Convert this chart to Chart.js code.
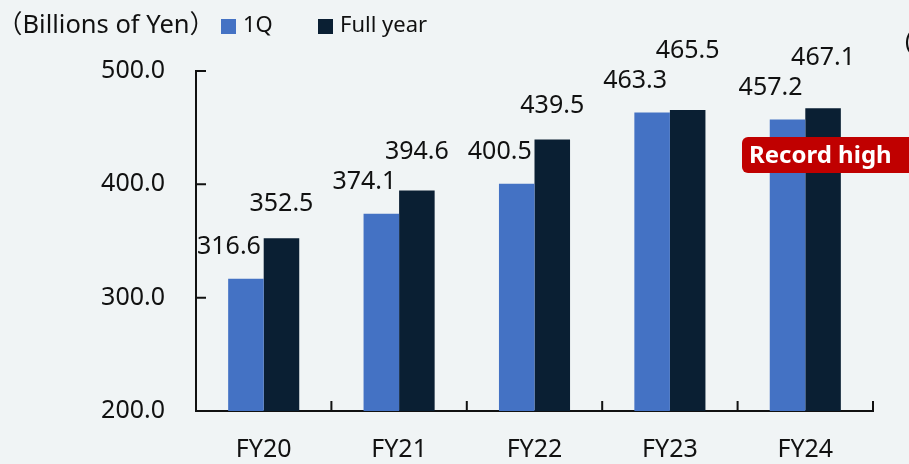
<!DOCTYPE html>
<html>
<head>
<meta charset="utf-8">
<script src="https://cdn.jsdelivr.net/npm/chart.js@4.4.1/dist/chart.umd.min.js"></script>
<style>
    body { margin: 0; background: #f0f4f5; }
    #wrap { width: 909px; height: 464px; }
</style>
</head>
<body>
<div id="wrap"><canvas id="grafico" width="909" height="464"></canvas></div>
<script>
const categories = ['FY20', 'FY21', 'FY22', 'FY23', 'FY24'];
const firstQuarter = [316.6, 374.1, 400.5, 463.3, 457.2];
const fullYear = [352.5, 394.6, 439.5, 465.5, 467.1];
const yTicks = [200, 300, 400, 500];

const FONT = "'Noto Sans', 'Noto Sans CJK JP', sans-serif";
const BG = '#f0f4f5';

// value labels, inward tick marks, unit label, legend and badge
const extras = {
    id: 'extras',
    beforeDraw(chart) {
        const ctx = chart.ctx;
        ctx.save();
        ctx.fillStyle = BG;
        ctx.fillRect(0, 0, chart.width, chart.height);
        ctx.restore();
    },
    afterDatasetsDraw(chart) {
        const ctx = chart.ctx;
        ctx.save();
        ctx.font = '25px ' + FONT;
        ctx.fillStyle = '#111111';
        ctx.textAlign = 'center';
        ctx.textBaseline = 'middle';
        const qBars = chart.getDatasetMeta(0).data;
        const fBars = chart.getDatasetMeta(1).data;
        qBars.forEach((bar, i) => {
            const qy = bar.y - 32;
            ctx.fillText(firstQuarter[i].toFixed(1), bar.x - 17, qy);
            // full year label sits above its bar, and above the 1Q label if they would touch
            const fBar = fBars[i];
            const fy = Math.min(fBar.y - 34, qy - 30);
            ctx.fillText(fullYear[i].toFixed(1), fBar.x, fy);
        });
        ctx.restore();
    },
    afterDraw(chart) {
        const ctx = chart.ctx;
        const area = chart.chartArea;
        const x = chart.scales.x;
        const y = chart.scales.y;
        ctx.save();

        // tick marks pointing into the plot
        ctx.strokeStyle = '#111111';
        ctx.lineWidth = 2;
        ctx.beginPath();
        yTicks.forEach((v) => {
            const py = y.getPixelForValue(v);
            ctx.moveTo(area.left, py);
            ctx.lineTo(area.left + 10, py);
        });
        for (let i = 1; i <= categories.length; i++) {
            const px = x.getPixelForValue(i - 0.5);
            ctx.moveTo(px, area.bottom);
            ctx.lineTo(px, area.bottom - 10);
        }
        ctx.stroke();

        // unit label
        ctx.fillStyle = '#111111';
        ctx.textBaseline = 'middle';
        ctx.textAlign = 'left';
        ctx.font = '25.5px ' + FONT;
        ctx.fillText('（Billions of Yen）', -3, 26);

        // legend
        ctx.font = '22px ' + FONT;
        const legendX = [221, 318];
        chart.data.datasets.forEach((dataset, d) => {
            ctx.fillStyle = dataset.backgroundColor;
            ctx.fillRect(legendX[d], 19, 15, 15);
            ctx.fillStyle = '#111111';
            ctx.fillText(dataset.label, legendX[d] + 22, 26);
        });

        // cut-off text at the right edge
        ctx.font = '24px ' + FONT;
        ctx.fillText('(', 905, 42);

        // badge
        ctx.fillStyle = '#c00000';
        ctx.beginPath();
        ctx.roundRect(742, 137, 172, 36, 6);
        ctx.fill();
        ctx.fillStyle = '#ffffff';
        ctx.font = 'bold 24px ' + FONT;
        ctx.fillText('Record high', 749, 156);

        ctx.restore();
    }
};

function createChart() {
    const ctx = document.getElementById('grafico');
    return new Chart(ctx, {
        type: 'bar',
        data: {
            labels: categories,
            datasets: [{
                label: '1Q',
                data: firstQuarter,
                backgroundColor: '#4472c4',
                categoryPercentage: 0.525,
                barPercentage: 1
            }, {
                label: 'Full year',
                data: fullYear,
                backgroundColor: '#0a1f33',
                categoryPercentage: 0.525,
                barPercentage: 1
            }]
        },
        options: {
            responsive: false,
            animation: false,
            layout: {
                padding: { left: 0, top: 71, right: 36, bottom: 0 }
            },
            scales: {
                x: {
                    offset: true,
                    grid: { display: false, drawTicks: false },
                    border: { display: true, color: '#111111', width: 2 },
                    ticks: {
                        color: '#111111',
                        padding: 24,
                        font: { size: 25, family: FONT }
                    },
                    afterFit: (scale) => { scale.height = 53; }
                },
                y: {
                    min: 200,
                    max: 500,
                    grid: { display: false, drawTicks: false },
                    border: { display: true, color: '#111111', width: 2 },
                    ticks: {
                        stepSize: 100,
                        color: '#111111',
                        padding: 31,
                        font: { size: 25, family: FONT },
                        callback: (v) => v.toFixed(1)
                    },
                    afterFit: (scale) => { scale.width = 196; }
                }
            },
            plugins: {
                legend: { display: false },
                tooltip: { enabled: false }
            }
        },
        plugins: [extras]
    });
}

createChart();
</script>
</body>
</html>
